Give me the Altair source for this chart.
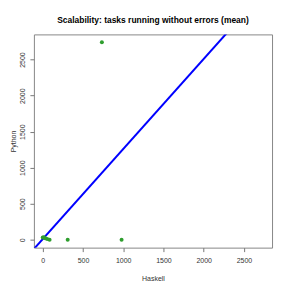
import altair as alt
import pandas as pd

haskell = [0, 15, 30, 55, 85, 310, 980, 735]
python = [30, 35, 20, 10, 0, 0, 0, 2740]

line_x = [-110, 2850]
slope = 1.25
intercept = 9

DOMAIN = [-110, 2850]
TICKS = [0, 500, 1000, 1500, 2000, 2500]

pts = pd.DataFrame({"Haskell": haskell, "Python": python})
ln = pd.DataFrame({"Haskell": line_x, "Python": [intercept + slope * v for v in line_x]})

xs = alt.Scale(domain=DOMAIN, nice=False, zero=False)
ys = alt.Scale(domain=DOMAIN, nice=False, zero=False)

axis_common = dict(
    values=TICKS, format="d", grid=False, domain=False, tickColor="#777", tickSize=4,
    labelColor="#333", labelFont="Liberation Sans", labelFontSize=7,
    titleFont="Liberation Sans", titleFontSize=7, titleFontWeight="normal",
    titleColor="#333",
)

points = alt.Chart(pts).mark_circle(size=16, color="#2e9e2e", opacity=1).encode(
    x=alt.X("Haskell:Q", scale=xs, axis=alt.Axis(title="Haskell", labelPadding=5, titlePadding=11, **axis_common)),
    y=alt.Y("Python:Q", scale=ys, axis=alt.Axis(title="Python", labelAngle=270, labelAlign="center", labelBaseline="bottom", labelPadding=4, titlePadding=2, **axis_common)),
)

line = alt.Chart(ln).mark_line(color="#0000ff", strokeWidth=2, clip=True).encode(
    x=alt.X("Haskell:Q", scale=xs),
    y=alt.Y("Python:Q", scale=ys),
)

chart = alt.layer(line, points).properties(
    width=239, height=214,
    title=alt.TitleParams("Scalability: tasks running without errors (mean)", font="Liberation Sans",
                          fontSize=8.5, fontWeight="bold", color="#000", offset=10, anchor="middle"),
    autosize=alt.AutoSizeParams(type="none"),
    padding={"left": 26, "top": 26, "right": 11, "bottom": 35},
).configure_view(stroke="#888", strokeWidth=1)

chart.save("out.html", embed_options={"renderer": "svg", "actions": False})
